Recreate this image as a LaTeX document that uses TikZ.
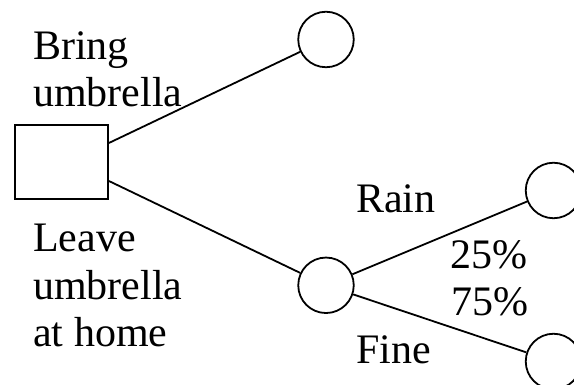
\documentclass[tikz,border=0pt]{standalone}
\usepackage{fontspec}
\setmainfont{Liberation Serif}
\begin{document}
\begin{tikzpicture}[x=1pt,y=1pt,
  decbox/.style={draw, line width=1.8pt, minimum width=93pt, minimum height=74pt, inner sep=0pt},
  chance/.style={draw, circle, line width=1.8pt, minimum size=55.5pt, inner sep=0pt},
  lbl/.style={font=\fontsize{42}{47.5}\selectfont, inner sep=0pt, anchor=base west, align=left},
  edge/.style={line width=1.8pt}]
\clip (0,0) rectangle (574,385);
\node[decbox] (dec) at (61.5,223) {};
\node[chance] (c1) at (326,345.5) {};
\node[chance] (c2) at (326,99.7) {};
\node[chance] (c3) at (553.5,194.5) {};
\node[chance] (c4) at (553.5,23.5) {};
\draw[edge] ([yshift=19pt]dec.east) -- (c1);
\draw[edge] ([yshift=-19pt]dec.east) -- (c2);
\draw[edge] (c2) -- (c3);
\draw[edge] (c2) -- (c4);
\node[lbl] (t1) at (33,278) {Bring\\umbrella};
\node[lbl] (t2) at (33,38.3) {Leave\\umbrella\\at home};
\node[lbl] (t3) at (356,172.7) {Rain};
\node[lbl] (t4) at (450,116.7) {25\%};
\node[lbl] (t5) at (451.7,69) {75\%};
\node[lbl] (t6) at (356,21.7) {Fine};
\end{tikzpicture}
\end{document}
